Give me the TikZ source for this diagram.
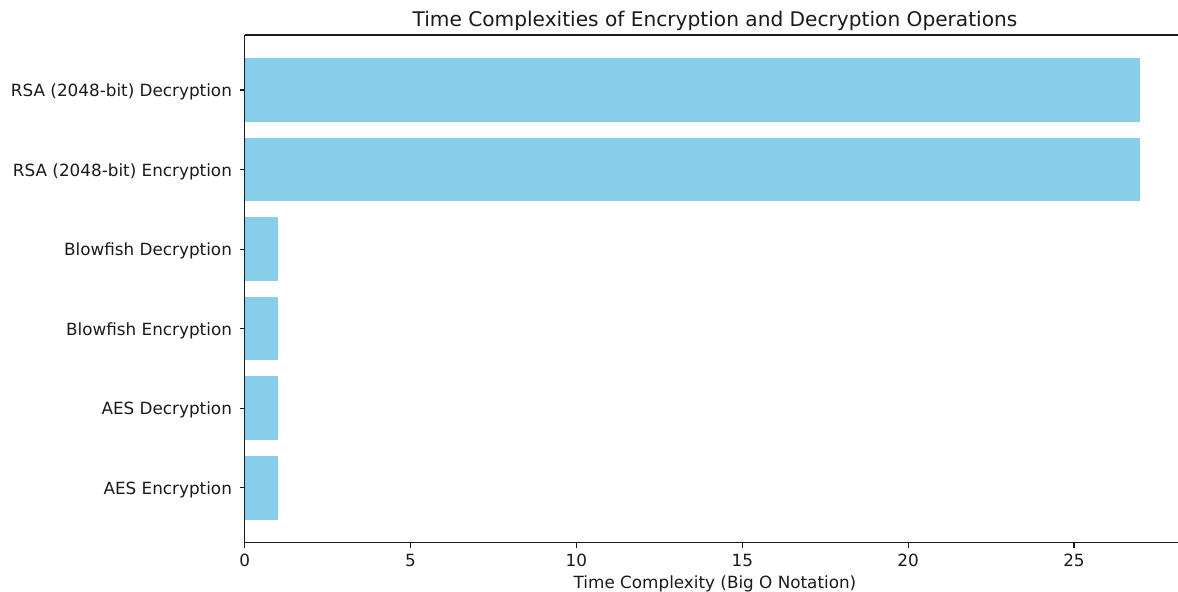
\documentclass[tikz,border=0pt]{standalone}
\usepackage{fontspec}
\setmainfont{DejaVu Sans}
\definecolor{skyblue}{HTML}{87CEEB}
\definecolor{inkgray}{HTML}{1A1A1A}
\begin{document}
\begin{tikzpicture}[x=0.72pt,y=-0.72pt,
  spine/.style={line width=0.8pt, draw=inkgray},
  tickmark/.style={line width=0.8pt, draw=inkgray},
  bar/.style={fill=skyblue},
  ticklab/.style={font=\fontsize{12.1}{14}\selectfont, inner sep=0pt, text=inkgray},
  titlelab/.style={font=\fontsize{14.5}{17}\selectfont, inner sep=0pt, text=inkgray}]
\useasboundingbox (0,0) rectangle (1178,591);
\clip (0,0) rectangle (1178,591);
% axes frame in pixel units
\def\xl{244.7}\def\xr{1186}\def\yt{35}\def\yb{542.7}
\def\ux{33.17}\def\pitch{79.54}\def\ybase{487.7}
% bars and category labels
\foreach \i/\v/\lab in {0/1/AES Encryption,1/1/AES Decryption,2/1/Blowfish Encryption,3/1/Blowfish Decryption,4/27/RSA (2048-bit) Encryption,5/27/RSA (2048-bit) Decryption}{
  \pgfmathsetmacro{\yc}{\ybase-\i*\pitch}
  \pgfmathsetmacro{\xe}{\xl+\v*\ux}
  \fill[bar] (\xl,\yc-31.8) rectangle (\xe,\yc+31.8);
  \draw[tickmark] (\xl,\yc) -- (\xl-4.9,\yc);
  \node[ticklab, anchor=base east] (ylab\i) at (\xl-12.5,\yc+6.5) {\lab};
}
% value axis ticks
\foreach \t in {0,5,10,15,20,25}{
  \pgfmathsetmacro{\xt}{\xl+\t*\ux}
  \draw[tickmark] (\xt,\yb) -- (\xt,\yb+4.9);
  \node[ticklab, anchor=base] (xlab\t) at (\xt,566) {\t};
}
% spines
\draw[spine] (\xl,\yt) -- (\xl,\yb);
\draw[spine] (\xl,\yb) -- (\xr,\yb);
\draw[spine] (\xl,\yt) -- (\xr,\yt);
\draw[spine] (\xr,\yt) -- (\xr,\yb);
% title and axis label
\node[titlelab, anchor=base] (title) at (715,26.7) {Time Complexities of Encryption and Decryption Operations};
\node[ticklab, anchor=base] (xtitle) at (715,588) {Time Complexity (Big O Notation)};
\end{tikzpicture}
\end{document}
